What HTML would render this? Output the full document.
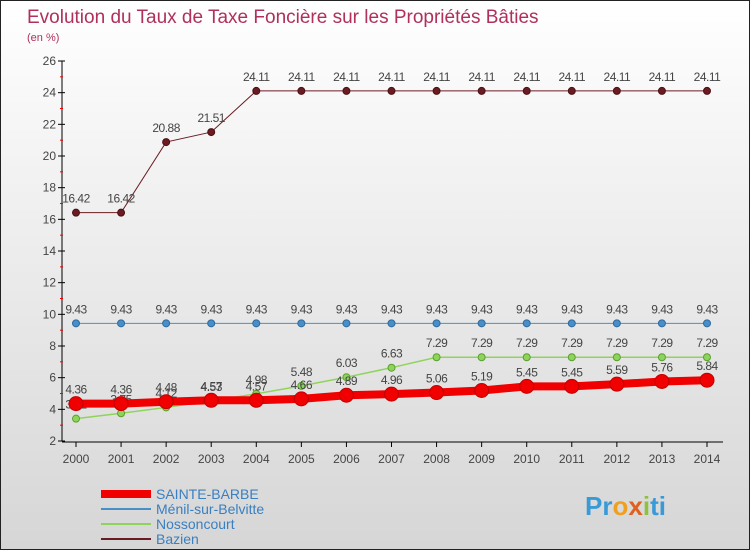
<!DOCTYPE html>
<html><head><meta charset="utf-8"><style>
body{margin:0}
#c{width:750px;height:550px;position:relative;box-sizing:border-box;border:1px solid #222;background:linear-gradient(#fff,#d6d6d6);font-family:"Liberation Sans",sans-serif;overflow:hidden}
</style></head><body>
<div id="c">
<svg id="s" width="750" height="550" style="position:absolute;left:0;top:0">
<text x="26" y="22" font-size="19" fill="#b0305a">Evolution du Taux de Taxe Foncière sur les Propriétés Bâties</text>
<text x="26" y="40" font-size="11" fill="#b0305a">(en %)</text>
</svg>
</div>
<script>
const years=[2000,2001,2002,2003,2004,2005,2006,2007,2008,2009,2010,2011,2012,2013,2014];
const yTicks=[2,4,6,8,10,12,14,16,18,20,22,24,26];
const sainteBarbe=[4.36,4.36,4.48,4.57,4.57,4.66,4.89,4.96,5.06,5.19,5.45,5.45,5.59,5.76,5.84];
const menil=[9.43,9.43,9.43,9.43,9.43,9.43,9.43,9.43,9.43,9.43,9.43,9.43,9.43,9.43,9.43];
const nossoncourt=[3.41,3.75,4.12,4.53,4.98,5.48,6.03,6.63,7.29,7.29,7.29,7.29,7.29,7.29,7.29];
const bazien=[16.42,16.42,20.88,21.51,24.11,24.11,24.11,24.11,24.11,24.11,24.11,24.11,24.11,24.11,24.11];
const seriesNames=["SAINTE-BARBE","Ménil-sur-Belvitte","Nossoncourt","Bazien"];
const s=document.getElementById('s');const NS="http://www.w3.org/2000/svg";
const X=i=>75+i*(706-75)/(years.length-1);
const Y=v=>440-(v-2)*(380/24);
function mk(t,a,p){const e=document.createElementNS(NS,t);for(const k in a)e.setAttribute(k,a[k]);(p||s).appendChild(e);return e;}
const ax=mk('g',{});


mk('line',{x1:61,y1:60,x2:61,y2:440,stroke:'#000'},ax);
mk('line',{x1:61,y1:441,x2:722,y2:441,stroke:'#000'},ax);
yTicks.forEach((v,i)=>{mk('line',{x1:57,x2:64,y1:Y(v),y2:Y(v),stroke:'#000'},ax);
 if(i<yTicks.length-1)mk('line',{x1:59,x2:62,y1:Y(v+1),y2:Y(v+1),stroke:'#e00'},ax);
 const t=mk('text',{x:55,y:Y(v)+4,'text-anchor':'end','font-size':12,fill:'#444'},ax);t.textContent=v;
 
 });
years.forEach((y,i)=>{mk('line',{x1:X(i),x2:X(i),y1:441,y2:446,stroke:'#000'},ax);
 const t=mk('text',{x:X(i),y:462,'text-anchor':'middle','font-size':12,fill:'#444'},ax);t.textContent=y;
 
 });
function series(data,col,w,r,stroke,name){const g=mk('g',{});
 
 
 mk('polyline',{points:data.map((v,i)=>X(i)+','+Y(v)).join(' '),fill:'none',stroke:col,'stroke-width':w},g);
 data.forEach((v,i)=>{const c=mk('circle',{cx:X(i),cy:Y(v),r:r,fill:col,stroke:stroke,'stroke-width':1},g);
  
  
  const t=mk('text',{x:X(i),y:Y(v)-10,'text-anchor':'middle','font-size':12,fill:'#444','letter-spacing':'-0.5'},g);t.textContent=v;});}
series(bazien,'#6b1c22',1,3.5,'#4a1015','series-bazien');
series(menil,'#4a8ec8',1,3.5,'#2c6aa0','series-menil');
series(nossoncourt,'#8fd45a',1.5,3.5,'#5aa030','series-nossoncourt');
series(sainteBarbe,'#f00000',8,7,'#c00000','series-sainte-barbe');
const lg=[['#f00000',8],['#4a8ec8',2],['#8fd45a',2],['#6b1c22',2]];
lg.forEach((l,i)=>{const y=493+i*15;const g=mk('g',{});
 
 
 mk('line',{x1:100,x2:150,y1:y,y2:y,stroke:l[0],'stroke-width':l[1]},g);
 const t=mk('text',{x:155,y:y+5,'font-size':14,fill:'#3a7fc0'},g);t.textContent=seriesNames[i];});
const lo=mk('text',{x:584,y:514,'font-size':26,'font-weight':'bold',fill:'#3a9ad8'});


lo.innerHTML='Pr<tspan fill="#f0a020">o</tspan><tspan fill="#e06020">x</tspan><tspan fill="#8fc040">i</tspan>ti';
</script>
</body></html>
